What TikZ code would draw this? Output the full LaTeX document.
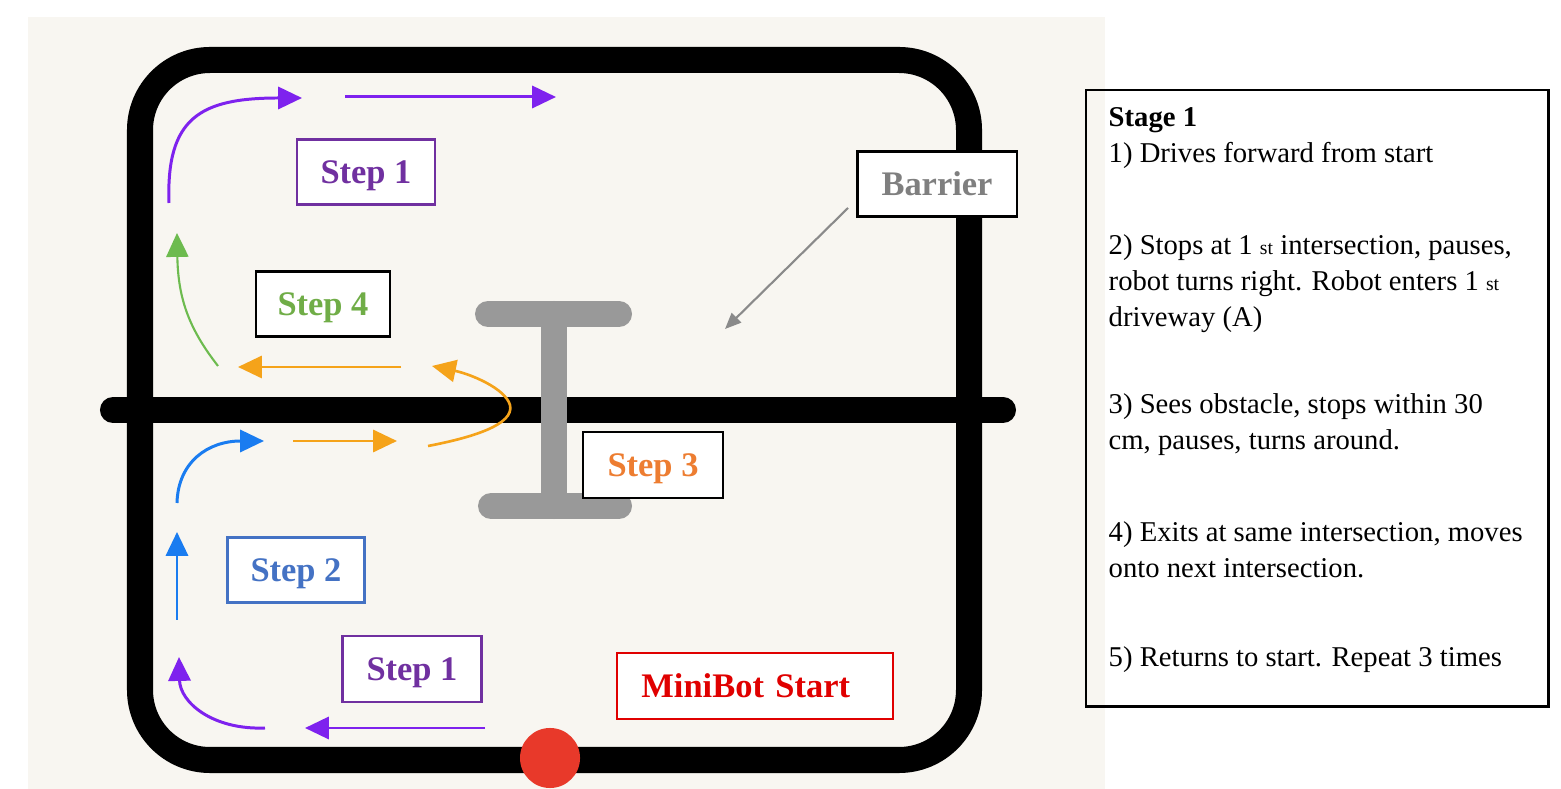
\documentclass[tikz,border=0pt]{standalone}
\usepackage{fontspec}
\setmainfont{Liberation Serif}
\usepackage{xcolor}
\usepackage{tikz}
\usetikzlibrary{arrows.meta}

\definecolor{paper}{HTML}{F8F6F1}
\definecolor{barriergray}{HTML}{999999}
\definecolor{barriertext}{HTML}{7F7F7F}
\definecolor{armpurple}{HTML}{7E22EE}
\definecolor{armblue}{HTML}{1A7CF0}
\definecolor{armorange}{HTML}{F5A31A}
\definecolor{armgreen}{HTML}{6DBB4F}
\definecolor{boxpurple}{HTML}{7030A0}
\definecolor{boxblue}{HTML}{4472C4}
\definecolor{stepgreen}{HTML}{70AD47}
\definecolor{steporange}{HTML}{ED7D31}
\definecolor{startred}{HTML}{E00000}
\definecolor{dotred}{HTML}{E8392A}

\newcommand{\ordsuf}[1]{{\fontsize{5.6}{6}\selectfont #1}}

\begin{document}
\begin{tikzpicture}[
  x=0.01cm, y=-0.01cm,
  track/.style={line width=7.4pt, black},
  barrier/.style={line width=7.4pt, barriergray, line cap=round},
  move/.style={line width=0.85pt, -{Triangle[length=6.8pt,width=6.3pt]}},
  stepbox/.style={draw, fill=white, line width=0.6pt, inner sep=0pt,
    font=\fontsize{9.8}{11}\selectfont\bfseries, text depth=0pt,
    minimum width=1.38cm, minimum height=0.65cm},
  info/.style={anchor=base west, inner sep=0pt, font=\fontsize{8.15}{10}\selectfont}
]
\useasboundingbox (0,0) rectangle (1561,789);
\fill[paper] (28,17) rectangle (1105,789);

% Track
\draw[track, rounded corners=0.7cm] (140,60) rectangle (969,760);
\draw[track, line cap=round] (113,410) -- (1003,410);

% Barrier
\draw[barrier] (488,314) -- (619,314);
\draw[barrier] (491,506) -- (619,506);
\draw[barrier] (554,314) -- (554,506);

% Step 1: out of the start
\draw[move, armpurple] (485,728) -- (305,728);
\draw[move, armpurple] (265,728) .. controls (212,730) and (180,702) .. (179,657);
% Step 2: up to the driveway
\draw[move, armblue] (177,620) -- (177,532);
\draw[move, armblue] (177,503) .. controls (178,462) and (208,441) .. (264,441);
% Step 3: to the barrier and back
\draw[move, armorange, line width=0.75pt] (293,441) -- (397,441);
\draw[move, armorange, line width=0.75pt] (428,446) .. controls (470,438) and (515,425) .. (510,405)
  .. controls (505,388) and (470,374) .. (432,366);
\draw[move, armorange, line width=0.75pt] (401,367) -- (238,367);
% Step 4: exit
\draw[move, armgreen, line width=0.6pt] (218,366) .. controls (190,330) and (178,300) .. (177,233);
% back along the top
\draw[move, armpurple] (169,203) .. controls (166,118) and (200,98) .. (302,98);
\draw[move, armpurple] (345,97) -- (556,97);

% Labels
\node[stepbox, draw=boxpurple, text=boxpurple] (step1a) at (366,172) {Step 1};
\node[stepbox, text=stepgreen, minimum width=1.34cm] (step4) at (323,304) {Step 4};
\node[stepbox, draw=boxblue, text=boxblue, minimum width=1.37cm] (step2) at (296,570) {Step 2};
\node[stepbox, draw=boxpurple, text=boxpurple, minimum width=1.39cm, minimum height=0.66cm] (step1b) at (412,669) {Step 1};
\node[stepbox, text=steporange, minimum width=1.40cm, minimum height=0.66cm] (step3) at (653,465) {Step 3};
\node[stepbox, text=barriertext, minimum width=1.59cm] (barrier) at (937,184) {Barrier};
\node[stepbox, draw=startred, text=startred, text width=2.27cm, align=left,
  inner xsep=0.24cm, minimum height=0.66cm] (start) at (755,686) {MiniBot Start};

% Barrier pointer
\coordinate (bartail) at (848,208);
\coordinate (barhead) at (725,329);
\draw[barriergray!90!black, line width=0.6pt, -{Triangle[length=4.6pt,width=3.8pt]}] (bartail) -- (barhead);

% MiniBot
\node[circle, fill=dotred, minimum size=0.6cm, inner sep=0pt] (bot) at (550,758) {};

% Stage panel
\node[draw, line width=0.7pt, anchor=north west, inner sep=0pt,
  minimum width=4.62cm, minimum height=6.16cm] (panel) at (1085,89) {};
\foreach \yy/\txt [count=\i] in {
  127/{\textbf{Stage 1}},
  163/{1) Drives forward from start},
  255/{2) Stops at 1 \ordsuf{st} intersection, pauses,},
  291/{robot turns right. Robot enters 1 \ordsuf{st}},
  327/{driveway (A)},
  414/{3) Sees obstacle, stops within 30},
  450/{cm, pauses, turns around.},
  542/{4) Exits at same intersection, moves},
  578/{onto next intersection.},
  667/{5) Returns to start. Repeat 3 times}}
  \node[info] (line\i) at (1108,\yy) {\txt};
\end{tikzpicture}
\end{document}
